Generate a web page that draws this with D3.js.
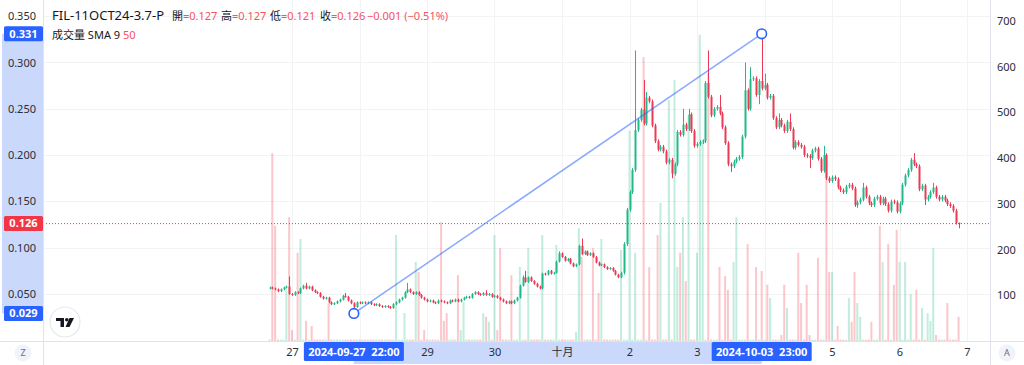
<!DOCTYPE html>
<html><head><meta charset="utf-8">
<script src="https://cdn.jsdelivr.net/npm/d3@7/dist/d3.min.js"></script>
<style>html,body{margin:0;padding:0;background:#fff;}svg{display:block;font-family:"Noto Sans","Noto Sans CJK TC",sans-serif;}</style>
</head><body><svg id="c" width="1024" height="365"></svg>
<script>
// ---- data ----
const symbol = "FIL-11OCT24-3.7-P";
const startUTC = Date.UTC(2024, 8, 26, 16); // first hourly candle
const opens = [
.056,.057,.056,.055,.053,.055,.057,.058,.050,.049,
.052,.051,.056,.059,.056,.058,.054,.052,.051,.047,
.045,.046,.041,.039,.040,.042,.044,.048,.047,.043,
.040,.036,.041,.040,.041,.040,.041,.039,.038,.039,
.037,.036,.037,.036,.035,.039,.041,.044,.046,.052,
.055,.052,.050,.052,.049,.046,.044,.042,.043,.041,
.040,.043,.042,.041,.040,.043,.042,.044,.042,.044,
.046,.047,.046,.050,.052,.050,.049,.051,.049,.050,
.047,.048,.046,.044,.042,.040,.042,.040,.043,.046,
.059,.068,.063,.068,.064,.061,.058,.056,.072,.071,
.075,.072,.073,.085,.094,.090,.086,.088,.083,.080,
.082,.102,.093,.096,.092,.094,.090,.084,.081,.082,
.079,.077,.078,.075,.071,.068,.073,.104,.141,.160,
.184,.227,.238,.249,.234,.262,.258,.232,.215,.206,
.209,.204,.192,.195,.180,.190,.225,.222,.233,.228,
.244,.226,.210,.212,.214,.215,.278,.263,.243,.250,
.252,.245,.230,.213,.190,.188,.193,.196,.198,.220,
.270,.250,.282,.283,.265,.280,.272,.276,.262,.264,
.240,.230,.238,.232,.226,.236,.228,.208,.214,.211,
.209,.200,.199,.197,.205,.207,.196,.183,.200,.175,
.172,.176,.174,.165,.162,.160,.166,.168,.164,.146,
.149,.152,.165,.155,.148,.146,.153,.155,.148,.153,
.147,.140,.150,.149,.139,.148,.168,.178,.184,.195,
.190,.188,.163,.167,.152,.155,.160,.165,.155,.152,
.155,.151,.147,.145,.140,.127];
const highs = [
.058,.058,.057,.056,.056,.058,.059,.069,.051,.053,
.053,.057,.060,.062,.059,.059,.055,.053,.052,.048,
.047,.047,.042,.041,.043,.045,.049,.051,.048,.044,
.041,.042,.042,.042,.042,.042,.042,.040,.040,.040,
.038,.038,.038,.037,.040,.042,.045,.047,.053,.062,
.056,.053,.053,.053,.050,.047,.045,.044,.044,.042,
.044,.044,.043,.042,.044,.044,.045,.045,.045,.047,
.048,.048,.051,.053,.053,.051,.052,.054,.051,.051,
.049,.049,.047,.045,.043,.043,.043,.044,.047,.060,
.070,.075,.069,.069,.065,.062,.059,.073,.073,.076,
.076,.074,.086,.096,.095,.091,.089,.089,.084,.083,
.103,.110,.097,.097,.095,.095,.091,.085,.083,.083,
.080,.079,.079,.076,.072,.074,.106,.143,.162,.186,
.313,.240,.251,.281,.268,.264,.260,.234,.217,.211,
.211,.206,.197,.197,.192,.227,.227,.250,.235,.250,
.246,.228,.214,.216,.217,.280,.313,.265,.252,.254,
.265,.247,.232,.215,.192,.195,.198,.200,.222,.300,
.272,.295,.285,.285,.282,.331,.288,.278,.266,.266,
.242,.245,.240,.234,.238,.245,.230,.216,.216,.213,
.211,.202,.201,.207,.209,.209,.198,.210,.202,.177,
.178,.178,.176,.167,.164,.168,.170,.170,.166,.151,
.154,.170,.167,.157,.150,.155,.157,.157,.155,.155,
.149,.152,.152,.151,.150,.170,.180,.186,.197,.202,
.192,.190,.169,.169,.157,.162,.170,.167,.157,.157,
.157,.153,.149,.147,.142,.127];
const lows = [
.055,.055,.054,.052,.052,.054,.056,.049,.048,.048,
.050,.050,.055,.055,.055,.053,.051,.050,.046,.044,
.044,.040,.038,.038,.039,.041,.043,.046,.042,.039,
.032,.035,.039,.039,.039,.039,.038,.037,.037,.036,
.035,.035,.035,.034,.034,.038,.040,.043,.045,.051,
.051,.049,.049,.048,.045,.043,.041,.041,.040,.039,
.039,.041,.040,.039,.039,.041,.041,.041,.041,.043,
.045,.045,.045,.049,.049,.048,.048,.048,.048,.046,
.046,.045,.043,.041,.039,.039,.039,.039,.042,.045,
.058,.062,.062,.063,.060,.057,.055,.055,.070,.070,
.071,.071,.072,.084,.089,.085,.085,.082,.079,.079,
.081,.092,.092,.091,.091,.089,.083,.080,.080,.078,
.076,.076,.074,.070,.067,.067,.071,.102,.139,.158,
.182,.225,.236,.232,.232,.256,.230,.213,.204,.204,
.202,.190,.190,.175,.178,.188,.220,.220,.226,.226,
.224,.208,.208,.210,.212,.213,.261,.241,.241,.248,
.243,.228,.211,.188,.182,.186,.191,.194,.196,.218,
.248,.248,.280,.263,.255,.270,.270,.260,.260,.238,
.228,.228,.230,.224,.224,.226,.206,.206,.209,.207,
.198,.197,.186,.195,.203,.194,.181,.181,.173,.170,
.170,.172,.163,.160,.158,.158,.164,.162,.144,.143,
.147,.150,.153,.146,.144,.144,.151,.146,.146,.145,
.138,.138,.147,.137,.137,.146,.166,.176,.182,.188,
.186,.161,.161,.146,.150,.153,.158,.153,.150,.150,
.149,.145,.143,.138,.125,.121];
const closes = [
.057,.056,.055,.053,.055,.057,.058,.050,.049,.052,
.051,.056,.059,.056,.058,.054,.052,.051,.047,.045,
.046,.041,.039,.040,.042,.044,.048,.047,.043,.040,
.036,.041,.040,.041,.040,.041,.039,.038,.039,.037,
.036,.037,.036,.035,.039,.041,.044,.046,.052,.055,
.052,.050,.052,.049,.046,.044,.042,.043,.041,.040,
.043,.042,.041,.040,.043,.042,.044,.042,.044,.046,
.047,.046,.050,.052,.050,.049,.051,.049,.050,.047,
.048,.046,.044,.042,.040,.042,.040,.043,.046,.059,
.068,.063,.068,.064,.061,.058,.056,.072,.071,.075,
.072,.073,.085,.094,.090,.086,.088,.083,.080,.082,
.102,.093,.096,.092,.094,.090,.084,.081,.082,.079,
.077,.078,.075,.071,.068,.073,.104,.141,.160,.184,
.227,.238,.249,.234,.262,.258,.232,.215,.206,.209,
.204,.192,.195,.180,.190,.225,.222,.233,.228,.244,
.226,.210,.212,.214,.215,.278,.263,.243,.250,.252,
.245,.230,.213,.190,.188,.193,.196,.198,.220,.270,
.250,.282,.283,.265,.280,.272,.276,.262,.264,.240,
.230,.238,.232,.226,.236,.228,.208,.214,.211,.209,
.200,.199,.197,.205,.207,.196,.183,.200,.175,.172,
.176,.174,.165,.162,.160,.166,.168,.164,.146,.149,
.152,.165,.155,.148,.146,.153,.155,.148,.153,.147,
.140,.150,.149,.139,.148,.168,.178,.184,.195,.190,
.188,.163,.167,.152,.155,.160,.165,.155,.152,.155,
.151,.147,.145,.140,.127,.126];
const volumes = [
3,411,252,3,3,3,112,271,24,3,
193,223,3,44,3,33,3,3,3,3,
3,83,3,3,3,3,3,3,3,3,
3,3,3,3,3,3,3,3,3,3,
3,3,3,3,3,232,3,3,61,3,
3,3,173,151,3,24,3,3,3,3,
3,260,44,61,3,3,3,144,24,85,
3,3,3,3,3,3,61,53,42,3,
232,24,203,3,3,3,144,3,3,162,
3,3,203,3,3,3,3,232,3,3,
3,3,210,3,3,3,3,3,3,20,
247,184,3,3,3,203,3,105,223,3,
3,3,3,3,3,199,3,3,460,3,
193,3,3,621,3,162,3,3,232,302,
3,3,527,3,571,162,193,271,131,494,
3,3,193,670,440,3,586,3,3,3,
162,3,142,112,3,173,271,3,3,3,
212,3,3,162,3,153,3,123,94,3,
3,3,13,123,72,3,3,3,193,83,
3,123,13,3,3,182,3,3,403,151,
151,3,33,3,3,3,94,42,151,83,
53,3,3,3,42,3,3,252,173,3,
212,3,123,243,173,3,173,3,103,3,
112,3,72,3,61,44,203,13,3,3,
3,83,3,3,3,53];
const priceTicks = [0.05, 0.10, 0.15, 0.20, 0.25, 0.30, 0.35];
const volumeTicks = [100, 200, 300, 400, 500, 600, 700];
const dayTickLabels = ["27","28","29","30","十月","2","3","4","5","6","7"];
const legendLabels = ["開","高","低","收"];
const legendValues = ["0.127","0.127","0.121","0.126"];
const legendChange = "−0.001 (−0.51%)";
const volLegendName = "成交量 SMA 9";
const volLegendValue = "50";
const lastPrice = 0.126;
const trendIdx = [30, 175];
const trendPrice = [0.029, 0.331];
const crossLabels = ["2024-09-27  22:00", "2024-10-03  23:00"];

// ---- scales ----
const svg = d3.select("#c");
const W = 1024, H = 365, L = 43, R = 990, B = 341;
const x = d3.scaleUtc().domain([Date.UTC(2024,8,27), Date.UTC(2024,9,7)]).range([292, 967]);
const y = d3.scaleLinear().domain([0.05, 0.35]).range([294, 16.2]);
const yv = d3.scaleLinear().domain([0, 700]).range([B, 21]);
const tOf = i => new Date(startUTC + i * 3600e3);
const upC = "#22b98a", dnC = "#ec3a55";
const upV = "rgba(34,185,138,0.28)", dnV = "rgba(242,54,69,0.28)";
const candles = closes.map((c, i) => ({i, o: opens[i], h: highs[i], l: lows[i], c, v: volumes[i]}));
const boxW = 100;
const tp = trendIdx.map((ix, k) => [x(tOf(ix)), y(trendPrice[k])]);

svg.append("rect").attr("width", W).attr("height", H).attr("fill", "#fff");

// grid
const days = d3.utcDay.range(Date.UTC(2024,8,27), Date.UTC(2024,9,7,1));
svg.append("g").selectAll("line").data(priceTicks).join("line")
  .attr("x1", L).attr("x2", R).attr("y1", d => Math.round(y(d)) + 0.5).attr("y2", d => Math.round(y(d)) + 0.5)
  .attr("stroke", "#f2f3f5");
svg.append("g").selectAll("line").data(days).join("line")
  .attr("x1", d => Math.round(x(d)) + 0.5).attr("x2", d => Math.round(x(d)) + 0.5).attr("y1", 0).attr("y2", B)
  .attr("stroke", "#f2f3f5");

// volume
svg.append("g").selectAll("rect").data(candles).join("rect")
  .attr("x", d => x(tOf(d.i)) - 1).attr("width", 2)
  .attr("y", d => yv(d.v)).attr("height", d => B - yv(d.v))
  .attr("fill", d => d.c >= d.o ? upV : dnV);

// last price dotted line
svg.append("line").attr("x1", L).attr("x2", R).attr("y1", y(lastPrice)).attr("y2", y(lastPrice))
  .attr("stroke", "#f23645").attr("stroke-width", 1).attr("stroke-dasharray", "1,2");

// candles
const cg = svg.append("g");
cg.selectAll("line").data(candles).join("line")
  .attr("x1", d => Math.round(x(tOf(d.i))) + 0.5).attr("x2", d => Math.round(x(tOf(d.i))) + 0.5)
  .attr("y1", d => y(d.h)).attr("y2", d => y(d.l))
  .attr("stroke", d => d.c >= d.o ? upC : dnC).attr("stroke-width", 1);
cg.selectAll("rect").data(candles).join("rect")
  .attr("x", d => Math.round(x(tOf(d.i))) - 0.5).attr("width", 2)
  .attr("y", d => y(Math.max(d.o, d.c)))
  .attr("height", d => Math.max(1, Math.abs(y(d.o) - y(d.c))))
  .attr("fill", d => d.c >= d.o ? upC : dnC);

// trend line
svg.append("line").attr("x1", tp[0][0]).attr("y1", tp[0][1]).attr("x2", tp[1][0]).attr("y2", tp[1][1])
  .attr("stroke", "#2962ff").attr("stroke-opacity", 0.55).attr("stroke-width", 1.5);
svg.append("g").selectAll("circle").data(tp).join("circle")
  .attr("cx", d => d[0]).attr("cy", d => d[1]).attr("r", 4.8)
  .attr("fill", "#fff").attr("stroke", "#2962ff").attr("stroke-width", 1.6);

// axes panels
svg.append("rect").attr("x", 0).attr("y", 0).attr("width", L).attr("height", B).attr("fill", "#fff");
svg.append("rect").attr("x", R).attr("y", 0).attr("width", W - R).attr("height", B).attr("fill", "#fff");
svg.append("rect").attr("x", 0).attr("y", B).attr("width", W).attr("height", H - B).attr("fill", "#fff");
// highlight bands
svg.append("rect").attr("x", 2).attr("y", y(trendPrice[1])).attr("width", L - 2)
  .attr("height", y(trendPrice[0]) - y(trendPrice[1])).attr("fill", "#c9d8fb");
svg.append("rect").attr("x", tp[0][0]).attr("y", B + 1).attr("width", tp[1][0] - tp[0][0])
  .attr("height", 22).attr("fill", "#c9d8fb");

// borders
svg.append("line").attr("x1", L + 0.5).attr("x2", L + 0.5).attr("y1", 0).attr("y2", H).attr("stroke", "#e0e3eb");
svg.append("line").attr("x1", R + 0.5).attr("x2", R + 0.5).attr("y1", 0).attr("y2", H).attr("stroke", "#e0e3eb");
svg.append("line").attr("x1", 0).attr("x2", W).attr("y1", B + 0.5).attr("y2", B + 0.5).attr("stroke", "#e0e3eb");

// left price axis
const leftAxis = d3.axisLeft(y).tickValues(priceTicks).tickFormat(d3.format(".3f")).tickSize(0).tickPadding(0);
const la = svg.append("g").attr("transform", `translate(36,0)`).call(leftAxis);
la.select(".domain").remove();
la.selectAll("text").attr("font-size", 11).attr("fill", "#2a2e39").attr("font-family", "Noto Sans, sans-serif");

// right volume axis
const rightAxis = d3.axisRight(yv).tickValues(volumeTicks).tickFormat(d3.format("d")).tickSize(0).tickPadding(0);
const ra = svg.append("g").attr("transform", `translate(997,0)`).call(rightAxis);
ra.select(".domain").remove();
ra.selectAll("text").attr("font-size", 11).attr("fill", "#2a2e39").attr("font-family", "Noto Sans, sans-serif");

// bottom time axis (labels hidden under the crosshair time boxes are not drawn)
const dayIdx = days.map((d, k) => k);
const visibleDays = dayIdx.filter(k => tp.every(p => Math.abs(x(days[k]) - p[0]) > boxW / 2 + 6));
const bottomAxis = d3.axisBottom(x).tickValues(visibleDays.map(k => days[k]))
  .tickFormat(d => dayTickLabels[days.findIndex(e => +e === +d)]).tickSize(0).tickPadding(0);
const ba = svg.append("g").attr("transform", `translate(0,${B + 6})`).call(bottomAxis);
ba.select(".domain").remove();
ba.selectAll("text").attr("font-size", 11).attr("fill", "#2a2e39").attr("dy", "0.85em")
  .attr("font-family", "Noto Sans, Noto Sans CJK TC, sans-serif");

// price labels on left
function tag(yy, txt, bg) {
  svg.append("rect").attr("x", 4).attr("y", yy - 7.5).attr("width", L - 4).attr("height", 15).attr("rx", 1.5).attr("fill", bg);
  svg.append("text").attr("x", 23.5).attr("y", yy).attr("dy", "0.35em").attr("text-anchor", "middle")
    .attr("font-size", 11).attr("font-weight", "bold").attr("fill", "#fff").text(txt);
}
tag(y(trendPrice[1]), d3.format(".3f")(trendPrice[1]), "#2962ff");
tag(y(trendPrice[0]), d3.format(".3f")(trendPrice[0]), "#2962ff");
tag(y(lastPrice), d3.format(".3f")(lastPrice), "#f23645");

// crosshair time labels
tp.forEach((p, k) => {
  svg.append("rect").attr("x", p[0] - boxW / 2).attr("y", B + 1).attr("width", boxW).attr("height", 19).attr("rx", 1.5).attr("fill", "#2962ff");
  svg.append("text").attr("x", p[0]).attr("y", B + 11).attr("dy", "0.35em").attr("text-anchor", "middle")
    .attr("font-size", 11).attr("font-weight", "bold").attr("fill", "#fff").attr("xml:space", "preserve").text(crossLabels[k]);
});

// corner buttons
[[23, "Z"], [1007, "A"]].forEach(([cx, t]) => {
  svg.append("circle").attr("cx", cx).attr("cy", 353).attr("r", 8.5).attr("fill", "#f0f3fa");
  svg.append("text").attr("x", cx).attr("y", 353).attr("dy", "0.35em").attr("text-anchor", "middle")
    .attr("font-size", 9).attr("fill", "#6a6d78").text(t);
});

// TradingView logo
const lg = svg.append("g").attr("transform", "translate(65,322)");
lg.append("circle").attr("r", 15).attr("fill", "#fff").attr("stroke", "#e6e8ee").attr("stroke-width", 1.2);
lg.append("path").attr("d", "M-9,-4 H-1 V5 H-4.5 V-1 H-9 Z").attr("fill", "#131722");
lg.append("circle").attr("cx", 1.8).attr("cy", -2.3).attr("r", 1.8).attr("fill", "#131722");
lg.append("path").attr("d", "M4.5,-4 H9 L4.5,5 H0.5 Z").attr("fill", "#131722");

// legend
const lt = svg.append("text").attr("y", 20).attr("font-family", "Noto Sans, Noto Sans CJK TC, sans-serif");
lt.append("tspan").attr("x", 52).attr("font-size", 13).attr("fill", "#131722").text(symbol);
const lx = [172, 221, 270, 320];
legendLabels.forEach((lab, k) => {
  lt.append("tspan").attr("x", lx[k]).attr("font-size", 11).attr("fill", "#131722").text(lab);
  lt.append("tspan").attr("font-size", 11).attr("fill", "#f7525f").text("=" + legendValues[k]);
});
lt.append("tspan").attr("x", 367).attr("font-size", 11).attr("fill", "#f7525f").text(legendChange);
const l2 = svg.append("text").attr("y", 39).attr("font-size", 11).attr("font-family", "Noto Sans, Noto Sans CJK TC, sans-serif");
l2.append("tspan").attr("x", 52).attr("fill", "#131722").text(volLegendName);
l2.append("tspan").attr("x", 123).attr("fill", "#f7525f").text(volLegendValue);
</script></body></html>
